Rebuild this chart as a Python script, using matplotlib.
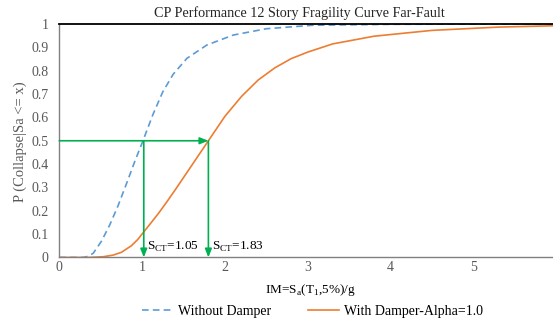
import matplotlib
matplotlib.use("Agg")
import matplotlib.pyplot as plt
from matplotlib.lines import Line2D

plt.rcParams["font.family"] = ["Liberation Serif", "DejaVu Serif"]
plt.rcParams["mathtext.fontset"] = "custom"
plt.rcParams["mathtext.rm"] = "Liberation Serif"

# values
im_without = [0, 0.29, 0.35, 0.41, 0.51, 0.61, 0.71, 0.81, 0.91, 1.01, 1.13,
              1.25, 1.375, 1.54, 1.78, 2.1, 2.5, 3.06, 4.0, 5.0, 6.0]
p_without = [0, 0, 0.005, 0.018, 0.07, 0.14, 0.222, 0.315, 0.41, 0.5, 0.612,
             0.71, 0.785, 0.853, 0.91, 0.953, 0.98, 0.995, 0.999, 1.0, 1.0]

im_damper = [0, 0.35, 0.53, 0.65, 0.75, 0.87, 0.95, 1.01, 1.1, 1.2, 1.3, 1.4,
             1.6, 1.8, 2.0, 2.2, 2.4, 2.6, 2.8, 3.0, 3.3, 3.8, 4.5, 5.3, 6.0]
p_damper = [0, 0, 0.003, 0.01, 0.022, 0.05, 0.078, 0.105, 0.145, 0.19, 0.239,
            0.29, 0.395, 0.5, 0.605, 0.69, 0.76, 0.812, 0.852, 0.88, 0.915,
            0.948, 0.973, 0.987, 0.993]

sct_without = 1.05
sct_damper = 1.83
sct_draw = [1.02, 1.80]   # where the arrows sit in the picture
y_ticks = [0, 0.1, 0.2, 0.3, 0.4, 0.5, 0.6, 0.7, 0.8, 0.9, 1]
y_tick_labels = ["0", "0.1", "0.2", "0.3", "0.4", "0.5", "0.6", "0.7", "0.8", "0.9", "1"]
x_ticks = [0, 1, 2, 3, 4, 5]

blue = "#5B9BD5"
orange = "#ED7D31"
green = "#00B050"
grey = "#595959"

fig = plt.figure(figsize=(5.53, 3.21), dpi=100, facecolor="white")
ax = fig.add_axes([0.1072, 0.198, 0.8928, 0.727])

ax.plot(im_without, p_without, color=blue, lw=1.2, dashes=(4, 2.5))
ax.plot(im_damper, p_damper, color=orange, lw=1.2)

arrow = dict(arrowstyle="-|>,head_length=0.5,head_width=0.2", color=green, lw=1.2,
             shrinkA=0, shrinkB=0)
ax.annotate("", xy=(sct_draw[1], 0.5), xytext=(0, 0.5), arrowprops=arrow)
for xs in sct_draw:
    ax.annotate("", xy=(xs, 0.0), xytext=(xs, 0.5), arrowprops=arrow)

ax.text(sct_draw[0] + 0.04, 0.045, "S$_\\mathregular{CT}$=%.2f" % sct_without,
        fontsize=9.5, color="black", va="center")
ax.text(sct_draw[1] + 0.04, 0.045, "S$_\\mathregular{CT}$=%.2f" % sct_damper,
        fontsize=9.5, color="black", va="center")

ax.set_xlim(0, 5.96)
ax.set_ylim(0, 1)
ax.set_xticks(x_ticks)
ax.set_yticks(y_ticks)
ax.set_yticklabels(y_tick_labels)
ax.tick_params(length=0, labelsize=10, colors=grey)
ax.tick_params(axis="y", pad=7.5)
ax.tick_params(axis="x", pad=2.5)

for side in ("left", "bottom"):
    ax.spines[side].set_color("#808080")
    ax.spines[side].set_linewidth(1.0)
ax.spines["right"].set_visible(False)
ax.spines["top"].set_color("black")
ax.spines["top"].set_linewidth(1.3)

fig.text(0.541, 0.96, "CP Performance 12 Story Fragility Curve Far-Fault",
         ha="center", va="center", fontsize=10.2, color="#262626")
fig.text(0.562, 0.098, "IM=S$_\\mathregular{a}$(T$_\\mathregular{1}$,5%)/g",
         ha="center", va="center", fontsize=9.5, color="black")
fig.text(0.036, 0.56, "P (Collapse|Sa <= x)", rotation=90, ha="center", va="center",
         fontsize=10.5, color=grey)

handles = [Line2D([], [], color=blue, lw=1.2, dashes=(4, 2.5)),
           Line2D([], [], color=orange, lw=1.2)]
fig.legend(handles, ["Without Damper", "With Damper-Alpha=1.0"], ncol=2,
           loc="center", bbox_to_anchor=(0.565, 0.031), frameon=False,
           fontsize=10, handlelength=2.2, handletextpad=0.4, columnspacing=2.7)

fig.savefig("out.png", dpi=100, facecolor="white")
